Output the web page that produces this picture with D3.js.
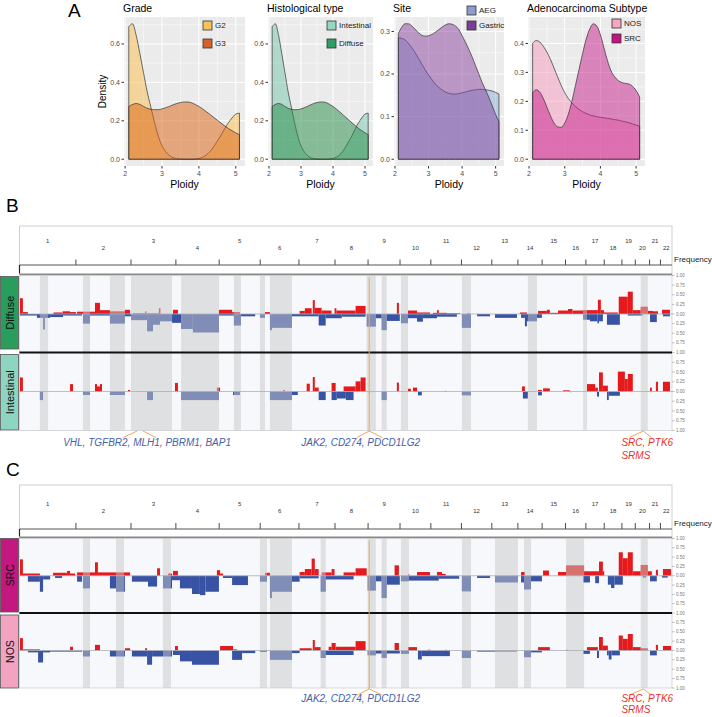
<!DOCTYPE html>
<html><head><meta charset="utf-8">
<script src="https://cdn.jsdelivr.net/npm/d3@7"></script>
<style>body{margin:0;background:#fff}svg{display:block}text{font-family:"Liberation Sans",Arial,Helvetica,sans-serif}.gray-aa{opacity:0.999}</style>
</head><body>
<svg id="chart" width="712" height="717"></svg>
<script>
// ---------------- Panel A data (density of ploidy) ----------------
const ploidy = [2.1,2.2,2.3,2.4,2.5,2.6,2.7,2.8,2.9,3.0,3.1,3.2,3.3,3.4,3.5,3.6,3.7,3.8,3.9,4.0,4.1,4.2,4.3,4.4,4.5,4.6,4.7,4.8,4.9,5.0,5.1];
const gradeG2 = [0.69,0.705,0.645,0.55,0.45,0.35,0.27,0.19,0.12,0.07,0.04,0.02,0.008,0.003,0.001,0,0,0,0.001,0.004,0.01,0.022,0.04,0.065,0.095,0.125,0.16,0.19,0.215,0.235,0.24];
const gradeG3 = [0.275,0.285,0.29,0.285,0.275,0.265,0.26,0.258,0.258,0.262,0.268,0.275,0.283,0.29,0.295,0.298,0.298,0.294,0.285,0.275,0.262,0.248,0.233,0.218,0.203,0.188,0.174,0.16,0.148,0.137,0.128];
const histIntestinal = [0.69,0.705,0.645,0.55,0.45,0.35,0.27,0.19,0.12,0.07,0.04,0.02,0.008,0.003,0.001,0,0,0,0.001,0.004,0.01,0.022,0.04,0.065,0.095,0.125,0.16,0.19,0.215,0.235,0.24];
const histDiffuse = [0.275,0.285,0.29,0.285,0.275,0.265,0.26,0.258,0.258,0.262,0.268,0.275,0.283,0.29,0.295,0.298,0.298,0.294,0.285,0.275,0.262,0.248,0.233,0.218,0.203,0.188,0.174,0.16,0.148,0.137,0.128];
const siteAEG = [0.285,0.284,0.28,0.272,0.262,0.25,0.237,0.223,0.21,0.198,0.187,0.177,0.169,0.163,0.158,0.155,0.153,0.153,0.154,0.156,0.158,0.16,0.162,0.163,0.164,0.164,0.163,0.162,0.16,0.157,0.153];
const siteGastric = [0.295,0.31,0.318,0.318,0.313,0.305,0.297,0.291,0.289,0.29,0.293,0.298,0.304,0.31,0.315,0.318,0.317,0.313,0.305,0.29,0.275,0.258,0.24,0.22,0.2,0.18,0.163,0.145,0.125,0.105,0.088];
const subtypeNOS = [0.40,0.41,0.405,0.39,0.37,0.345,0.315,0.285,0.255,0.23,0.21,0.195,0.182,0.172,0.164,0.158,0.153,0.15,0.147,0.145,0.143,0.141,0.139,0.137,0.135,0.132,0.129,0.126,0.122,0.118,0.114];
const subtypeSRC = [0.23,0.24,0.232,0.21,0.18,0.15,0.125,0.112,0.11,0.125,0.155,0.2,0.255,0.31,0.365,0.415,0.45,0.468,0.46,0.43,0.385,0.34,0.305,0.285,0.272,0.265,0.262,0.26,0.252,0.238,0.215];
const ploidyTicks = [2,3,4,5];

// ---------------- Panels B/C data (genome frequency plots) ----------------
const chromosomes = ["1","2","3","4","5","6","7","8","9","10","11","12","13","14","15","16","17","18","19","20","21","22"];
const chromLengthsMb = [249,243,198,191,181,171,159,146,141,136,135,134,115,107,103,90,81,78,59,63,48,51];
const freqTicks = [1,0.75,0.5,0.25,0,-0.25,-0.5,-0.75,-1];
// segments: [genome start Mb, genome end Mb, frequency]
const diffuseGain = [[2,15,0.41],[15,37,0.05],[150,190,0.04],[190,223,0.07],[223,249,0.05],[254,333,0.06],[333,355,0.29],[355,399,0.1],[399,465,0.07],[465,488,0.11],[500,554,0.02],[554,560,0.07],[560,615,0.02],[615,622,0.15],[677,699,0.11],[880,938,0.11],[938,973,0.05],[1083,1105,0.05],[1236,1259,0.08],[1259,1289,0.15],[1294,1303,0.36],[1303,1333,0.16],[1333,1377,0.09],[1390,1398,0.15],[1398,1483,0.09],[1483,1527,0.21],[1665,1674,0.29],[1714,1754,0.09],[1754,1811,0.04],[1824,1842,0.03],[1842,1850,0.1],[1850,1886,0.03],[1886,1944,0.02],[1974,1988,0.02],[2208,2239,0.04],[2288,2327,0.08],[2327,2340,0.11],[2340,2376,0.03],[2376,2420,0.09],[2420,2440,0.13],[2440,2487,0.09],[2487,2552,0.1],[2552,2565,0.37],[2565,2579,0.1],[2579,2640,0.04],[2644,2684,0.45],[2684,2706,0.58],[2706,2741,0.1],[2741,2772,0.19],[2772,2795,0.08],[2795,2817,0.07],[2835,2870,0.11]];
const diffuseLoss = [[2,77,0.04],[77,104,0.1],[104,112,0.4],[112,135,0.1],[135,192,0.08],[192,276,0.04],[280,311,0.25],[311,399,0.04],[399,465,0.25],[465,492,0.06],[492,563,0.16],[563,589,0.45],[589,620,0.28],[620,673,0.19],[673,713,0.23],[713,765,0.39],[765,880,0.48],[880,946,0.04],[946,977,0.3],[977,1040,0.06],[1061,1083,0.1],[1105,1114,0.42],[1114,1202,0.36],[1202,1320,0.06],[1320,1351,0.3],[1351,1422,0.11],[1422,1527,0.07],[1532,1572,0.33],[1572,1598,0.11],[1598,1620,0.42],[1620,1678,0.18],[1683,1714,0.24],[1714,1754,0.11],[1754,1780,0.2],[1780,1842,0.11],[1842,1930,0.07],[1952,1992,0.36],[2019,2076,0.06],[2098,2195,0.1],[2213,2230,0.1],[2230,2239,0.32],[2239,2283,0.19],[2283,2305,0.1],[2487,2517,0.15],[2517,2550,0.19],[2550,2557,0.24],[2557,2574,0.19],[2592,2649,0.28],[2684,2750,0.04],[2782,2812,0.21],[2839,2870,0.06]];
const intestinalGain = [[2,15,0.36],[223,236,0.19],[333,342,0.19],[342,355,0.13],[355,364,0.19],[479,488,0.04],[686,699,0.22],[871,885,0.1],[1163,1171,0.04],[1267,1281,0.2],[1294,1303,0.37],[1303,1320,0.1],[1377,1395,0.22],[1430,1483,0.13],[1483,1505,0.26],[1505,1527,0.36],[1665,1674,0.23],[1714,1727,0.07],[1736,1754,0.1],[1877,1881,0.02],[2217,2230,0.13],[2288,2305,0.04],[2310,2340,0.08],[2398,2429,0.03],[2504,2540,0.19],[2540,2552,0.1],[2557,2574,0.49],[2574,2596,0.15],[2640,2671,0.51],[2671,2684,0.32],[2684,2706,0.45],[2782,2790,0.1],[2808,2817,0.25],[2839,2870,0.25]];
const intestinalLoss = [[90,104,0.22],[280,311,0.09],[399,465,0.09],[563,589,0.22],[713,880,0.22],[942,973,0.09],[1105,1202,0.22],[1202,1228,0.09],[1320,1351,0.22],[1377,1400,0.22],[1400,1440,0.18],[1440,1474,0.22],[1541,1545,0.03],[1598,1620,0.22],[1758,1775,0.1],[1952,1992,0.1],[2221,2243,0.18],[2288,2305,0.1],[2430,2434,0.02],[2548,2557,0.13],[2592,2600,0.22],[2600,2649,0.11]];
const srcGain = [[2,15,0.44],[15,90,0.06],[148,210,0.08],[210,223,0.13],[223,245,0.06],[254,333,0.09],[333,346,0.36],[346,488,0.09],[607,620,0.2],[655,673,0.06],[677,699,0.13],[871,885,0.15],[885,898,0.06],[1083,1105,0.08],[1236,1259,0.1],[1259,1289,0.18],[1289,1303,0.46],[1303,1320,0.18],[1333,1377,0.09],[1377,1390,0.18],[1430,1483,0.09],[1483,1532,0.2],[1655,1674,0.28],[1714,1720,0.04],[1754,1811,0.1],[1842,1864,0.1],[1864,1880,0.05],[2213,2230,0.1],[2310,2336,0.14],[2376,2412,0.1],[2412,2491,0.28],[2491,2557,0.12],[2557,2574,0.38],[2574,2580,0.12],[2644,2662,0.63],[2662,2684,0.47],[2684,2706,0.63],[2706,2741,0.12],[2741,2772,0.29],[2772,2790,0.12],[2808,2817,0.16],[2839,2875,0.18]];
const srcLoss = [[37,90,0.16],[90,104,0.43],[104,135,0.1],[157,188,0.06],[254,276,0.16],[280,311,0.34],[399,426,0.34],[426,465,0.43],[496,567,0.16],[567,607,0.29],[633,673,0.34],[673,708,0.12],[708,761,0.34],[761,796,0.49],[796,820,0.52],[820,880,0.43],[898,938,0.06],[938,1008,0.25],[1061,1092,0.16],[1105,1114,0.6],[1114,1202,0.43],[1202,1236,0.16],[1236,1320,0.07],[1329,1351,0.43],[1351,1474,0.1],[1536,1572,0.4],[1572,1598,0.15],[1598,1620,0.6],[1620,1678,0.24],[1683,1718,0.15],[1718,1850,0.13],[1850,1940,0.08],[1952,1992,0.42],[2019,2076,0.06],[2098,2199,0.18],[2213,2226,0.18],[2226,2257,0.37],[2257,2305,0.15],[2487,2517,0.18],[2540,2557,0.2],[2596,2610,0.24],[2610,2625,0.33],[2625,2662,0.24],[2750,2765,0.05],[2782,2812,0.15],[2835,2860,0.05]];
const nosGain = [[2,15,0.33],[15,90,0.03],[223,236,0.1],[333,355,0.15],[465,488,0.06],[554,563,0.06],[686,699,0.12],[885,942,0.12],[942,960,0.03],[1236,1289,0.06],[1294,1303,0.28],[1303,1329,0.09],[1364,1377,0.1],[1377,1395,0.2],[1395,1483,0.1],[1483,1527,0.25],[1655,1674,0.2],[1714,1754,0.09],[1800,1815,0.02],[1880,1885,0.02],[2288,2340,0.09],[2412,2420,0.02],[2504,2552,0.09],[2557,2574,0.36],[2574,2596,0.13],[2644,2662,0.4],[2662,2684,0.31],[2684,2706,0.44],[2706,2741,0.09],[2741,2772,0.06],[2808,2817,0.15],[2839,2875,0.12]];
const nosLoss = [[37,82,0.05],[82,104,0.32],[104,135,0.05],[135,276,0.03],[280,311,0.16],[399,465,0.16],[496,563,0.16],[563,585,0.38],[585,673,0.16],[677,708,0.12],[708,761,0.29],[761,880,0.38],[938,982,0.25],[982,1040,0.07],[1061,1092,0.04],[1105,1202,0.25],[1202,1236,0.07],[1329,1351,0.2],[1351,1474,0.12],[1536,1572,0.13],[1572,1598,0.08],[1598,1620,0.2],[1620,1678,0.08],[1683,1718,0.09],[1758,1775,0.24],[1775,1899,0.15],[1952,1992,0.2],[2019,2195,0.03],[2226,2257,0.18],[2257,2305,0.05],[2487,2517,0.09],[2548,2557,0.2],[2592,2600,0.13],[2600,2612,0.24],[2612,2649,0.13],[2782,2812,0.13]];
// significant regions (grey bands): [genome start Mb, genome end Mb]
const bandsB = [[90,126],[280,311],[399,465],[492,673],[713,880],[946,977],[1061,1083],[1105,1202],[1532,1572],[1598,1620],[1683,1714],[1952,1992],[2243,2283],[2487,2504],[2741,2772]];
const bandsC = [[280,311],[426,461],[633,668],[1061,1092],[1105,1202],[1329,1351],[1536,1572],[1598,1620],[1683,1718],[1952,1992],[2098,2199],[2226,2257],[2412,2491],[2741,2772]];
// gene annotations: chromosome index (1-based), region Mb within chromosome
const genesLoss3p = {text:"VHL, TGFBR2, MLH1, PBRM1, BAP1", chr:3, from:27, to:53};
const genes9p = {text:"JAK2, CD274, PDCD1LG2", chr:9, from:5, to:5};
const genes20q = {lines:["SRC, PTK6","SRMS"], chr:20, from:36, to:36};

// ---------------- drawing ----------------
const svg = d3.select("#chart");
const RED = "#E41A1C", BLUE = "#3953A4", ORANGE = "#F2A65A", GENE_BLUE = "#4560AC", GENE_RED = "#E8302C";

// letters
svg.append("text").attr("x",68).attr("y",17).attr("font-size",19).text("A");
svg.append("text").attr("x",6).attr("y",212).attr("font-size",19).text("B");
svg.append("text").attr("x",6).attr("y",476).attr("font-size",19).text("C");

const panelTop = 17, panelBot = 166;
const densityPanels = [
  {title:"Grade", x0:124, x1:245, yTicks:[0,0.2,0.4,0.6], legendX:203, legendY:[21,39],
   series:[{name:"G2",v:gradeG2,fill:"#FDB93A",key:"#F8C25A"},{name:"G3",v:gradeG3,fill:"#D95F0E",key:"#D6602A"}], ylab:true},
  {title:"Histological type", x0:268, x1:373, yTicks:[0,0.2,0.4,0.6], legendX:327, legendY:[21,39],
   series:[{name:"Intestinal",v:histIntestinal,fill:"#66C2A4",key:"#97D6C3"},{name:"Diffuse",v:histDiffuse,fill:"#238B45",key:"#2E9E62"}]},
  {title:"Site", x0:394, x1:504, yTicks:[0,0.1,0.2,0.3], legendX:467, legendY:[6,21],
   series:[{name:"AEG",v:siteAEG,fill:"#7FA7D3",key:"#8E9BCB"},{name:"Gastric",v:siteGastric,fill:"#88419D",key:"#7B3D95"}]},
  {title:"Adenocarcinoma Subtype", x0:528, x1:645, yTicks:[0,0.1,0.2,0.3,0.4], legendX:612, legendY:[19,34],
   series:[{name:"NOS",v:subtypeNOS,fill:"#F691B8",key:"#F4A7BE"},{name:"SRC",v:subtypeSRC,fill:"#C51B8A",key:"#C0157F"}]}
];

densityPanels.forEach(p => {
  const g = svg.append("g");
  const x = d3.scaleLinear().domain([1.97,5.25]).range([p.x0,p.x1]);
  const ymax = d3.max(p.series, s => d3.max(s.v));
  const y = d3.scaleLinear().domain([-0.05*ymax, 1.05*ymax]).range([panelBot,panelTop]);
  g.append("rect").attr("x",p.x0).attr("y",panelTop).attr("width",p.x1-p.x0).attr("height",panelBot-panelTop).attr("fill","#EBEBEB");
  const step = p.yTicks[1]-p.yTicks[0];
  const yMinor = p.yTicks.map(t=>t+step/2).filter(t=>y(t)>panelTop);
  g.selectAll(null).data(yMinor).join("line").attr("x1",p.x0).attr("x2",p.x1).attr("y1",d=>y(d)).attr("y2",d=>y(d)).attr("stroke","#fff").attr("stroke-width",0.5);
  g.selectAll(null).data([2.5,3.5,4.5]).join("line").attr("y1",panelTop).attr("y2",panelBot).attr("x1",d=>x(d)).attr("x2",d=>x(d)).attr("stroke","#fff").attr("stroke-width",0.5);
  g.selectAll(null).data(p.yTicks).join("line").attr("x1",p.x0).attr("x2",p.x1).attr("y1",d=>y(d)).attr("y2",d=>y(d)).attr("stroke","#fff").attr("stroke-width",1);
  g.selectAll(null).data(ploidyTicks).join("line").attr("y1",panelTop).attr("y2",panelBot).attr("x1",d=>x(d)).attr("x2",d=>x(d)).attr("stroke","#fff").attr("stroke-width",1);
  const area = d3.area().x((d,i)=>x(ploidy[i])).y0(y(0)).y1(d=>y(d)).curve(d3.curveMonotoneX);
  p.series.forEach((s,k) => {
    g.append("path").attr("d",area(s.v)).attr("fill",s.fill).attr("fill-opacity",k===0?0.45:0.5)
      .attr("stroke","#333").attr("stroke-opacity",0.7).attr("stroke-width",1);
  });
  // axes
  g.selectAll(null).data(p.yTicks).join("line").attr("x1",p.x0-2.5).attr("x2",p.x0).attr("y1",d=>y(d)).attr("y2",d=>y(d)).attr("stroke","#333");
  g.selectAll(null).data(p.yTicks).join("text").attr("x",p.x0-4).attr("y",d=>y(d)).attr("dy","0.35em").attr("text-anchor","end")
    .attr("font-size",7).attr("fill","#4D4D4D").text(d=>d3.format(".1f")(d));
  g.selectAll(null).data(ploidyTicks).join("line").attr("x1",d=>x(d)).attr("x2",d=>x(d)).attr("y1",panelBot).attr("y2",panelBot+2.5).attr("stroke","#333");
  g.selectAll(null).data(ploidyTicks).join("text").attr("x",d=>x(d)).attr("y",panelBot+10).attr("text-anchor","middle")
    .attr("font-size",7).attr("fill","#4D4D4D").text(d=>d);
  g.append("text").attr("x",(p.x0+p.x1)/2).attr("y",188).attr("text-anchor","middle").attr("font-size",10.5).text("Ploidy");
  g.append("text").attr("x",p.x0-1).attr("y",11.7).attr("font-size",10.5).text(p.title);
  if (p.ylab) g.append("text").attr("transform",`translate(106,${(panelTop+panelBot)/2}) rotate(-90)`).attr("text-anchor","middle").attr("font-size",10).text("Density");
  // legend
  p.series.forEach((s,k) => {
    g.append("rect").attr("x",p.legendX).attr("y",p.legendY[k]).attr("width",9).attr("height",9)
      .attr("fill",s.key).attr("stroke","#333").attr("stroke-width",0.8);
    g.append("text").attr("x",p.legendX+12).attr("y",p.legendY[k]+4.5).attr("dy","0.35em").attr("font-size",8).attr("fill","#222").text(s.name);
  });
});

// genome panels
const chromStart = Array.from(d3.cumsum([0, ...chromLengthsMb]));
const genomeLen = chromStart[chromStart.length-1];
const gx = d3.scaleLinear().domain([0, genomeLen]).range([19.5, 672]);
const pos = (chr, mb) => gx(chromStart[chr-1] + mb);

function drawGenome(cfg) {
  const g = svg.append("g");
  g.append("rect").attr("x",19.5).attr("y",cfg.boxTop).attr("width",652.5).attr("height",cfg.trackTop-cfg.boxTop)
    .attr("fill","#fff").attr("stroke","#cfcfcf");
  g.append("g").attr("class","gray-aa").selectAll(null).data(chromosomes).join("text")
    .attr("x",(d,i)=>gx(chromStart[i]+chromLengthsMb[i]/2)).attr("y",(d,i)=> i%2===0?cfg.oddY:cfg.evenY)
    .attr("text-anchor","middle").attr("font-size",6).attr("fill","#333").text(d=>d);
  g.selectAll(null).data(chromStart.slice(1,22)).join("line")
    .attr("x1",d=>gx(d)).attr("x2",d=>gx(d)).attr("y1",cfg.tickTop).attr("y2",cfg.tickBot).attr("stroke","#333").attr("stroke-width",0.9);
  g.append("line").attr("x1",19.5).attr("x2",672).attr("y1",cfg.tickBot).attr("y2",cfg.tickBot).attr("stroke","#555").attr("stroke-width",1);
  g.append("line").attr("x1",19.5).attr("x2",19.5).attr("y1",cfg.tickBot).attr("y2",cfg.barBot).attr("stroke","#222").attr("stroke-width",1.2);
  g.append("rect").attr("x",19.5).attr("y",cfg.barBot).attr("width",652.5).attr("height",cfg.trackTop-cfg.barBot).attr("fill","#8A8A8A");
  g.append("text").attr("x",674).attr("y",cfg.freqY).attr("font-size",8).attr("fill","#222").text("Frequency");
  // track background
  g.append("rect").attr("x",19.5).attr("y",cfg.trackTop).attr("width",652.5).attr("height",cfg.trackBot-cfg.trackTop)
    .attr("fill","#F6F8FB").attr("stroke","#CFCFCF").attr("stroke-width",0.8);
  cfg.tracks.forEach((t,k) => {
    const y = d3.scaleLinear().domain([-1,1]).range([t.bot,t.top]);
    g.selectAll(null).data(t.gain).join("rect").attr("x",d=>gx(d[0])).attr("width",d=>Math.max(0.8,gx(d[1])-gx(d[0])))
      .attr("y",d=>y(d[2])).attr("height",d=>y(0)-y(d[2])).attr("fill",RED);
    g.selectAll(null).data(t.loss).join("rect").attr("x",d=>gx(d[0])).attr("width",d=>Math.max(0.8,gx(d[1])-gx(d[0])))
      .attr("y",y(0)).attr("height",d=>y(-d[2])-y(0)).attr("fill",BLUE);
    // right axis
    const tv = k===0 ? freqTicks : freqTicks.slice(1);
    g.selectAll(null).data(tv).join("line").attr("x1",672).attr("x2",674.5).attr("y1",d=>y(d)).attr("y2",d=>y(d)).attr("stroke","#999").attr("stroke-width",0.6);
    g.append("g").attr("class","gray-aa").selectAll(null).data(tv).join("text").attr("x",676).attr("y",d=>y(d)).attr("dy","0.35em").attr("font-size",4.5).attr("fill","#777")
      .text(d=>d3.format(".2f")(Math.abs(d)));
    // strip
    g.append("rect").attr("x",0.5).attr("y",t.strip[0]).attr("width",18).attr("height",t.strip[1]-t.strip[0])
      .attr("fill",t.color).attr("stroke","#555").attr("stroke-width",0.8);
    g.append("text").attr("transform",`translate(10,${(t.strip[0]+t.strip[1])/2}) rotate(-90)`).attr("dy","0.35em")
      .attr("text-anchor","middle").attr("font-size",t.fs).attr("fill","#111").text(t.label);
    t.zero = y(0);
  });
  // significance bands
  g.selectAll(null).data(cfg.bands).join("rect").attr("x",d=>gx(d[0])).attr("width",d=>gx(d[1])-gx(d[0]))
    .attr("y",cfg.trackTop).attr("height",cfg.trackBot-cfg.trackTop).attr("fill","#C8C8C8").attr("fill-opacity",0.5);
  cfg.tracks.forEach(t => {
    g.append("line").attr("x1",19.5).attr("x2",672).attr("y1",t.zero).attr("y2",t.zero).attr("stroke","#A9AEBB").attr("stroke-width",0.8);
  });
  g.append("line").attr("x1",19.5).attr("x2",672).attr("y1",cfg.sep).attr("y2",cfg.sep).attr("stroke","#111").attr("stroke-width",2);
  // JAK2 vertical line + caret
  const xj = pos(genes9p.chr, genes9p.from);
  g.append("line").attr("x1",xj).attr("x2",xj).attr("y1",cfg.trackTop+2).attr("y2",cfg.caretTop).attr("stroke",ORANGE).attr("stroke-width",1);
  const caret = (xa, xb, dl, dr) => {
    g.append("line").attr("x1",xa).attr("y1",cfg.caretTop).attr("x2",xa-dl).attr("y2",cfg.caretBot).attr("stroke",ORANGE).attr("stroke-width",1);
    g.append("line").attr("x1",xb).attr("y1",cfg.caretTop).attr("x2",xb+dr).attr("y2",cfg.caretBot).attr("stroke",ORANGE).attr("stroke-width",1);
  };
  caret(xj, xj, 12, 13);
  g.append("text").attr("x",xj-8.5).attr("y",cfg.textY).attr("text-anchor","middle").attr("font-size",10)
    .attr("font-style","italic").attr("fill",GENE_BLUE).text(genes9p.text);
  if (cfg.show3p) {
    const xa = pos(genesLoss3p.chr, genesLoss3p.from), xb = pos(genesLoss3p.chr, genesLoss3p.to);
    caret(xa, xb, 14, 13);
    g.append("text").attr("x",(xa+xb)/2+7).attr("y",cfg.textY).attr("text-anchor","middle").attr("font-size",10)
      .attr("font-style","italic").attr("fill",GENE_BLUE).text(genesLoss3p.text);
  }
  const xs = pos(genes20q.chr, genes20q.from);
  caret(xs, xs, 14, 8);
  g.selectAll(null).data(genes20q.lines).join("text").attr("x",xs-22).attr("y",(d,i)=>cfg.textY+i*cfg.lineGap)
    .attr("font-size",10).attr("font-style","italic").attr("fill",GENE_RED).text(d=>d);
}

drawGenome({boxTop:226, oddY:242.5, evenY:250, tickTop:259.5, tickBot:265, barBot:273.5, trackTop:275.5, sep:352.5, trackBot:430.5,
  freqY:262, caretTop:431, caretBot:437.5, textY:446, lineGap:12.5, show3p:true, bands:bandsB,
  tracks:[{label:"Diffuse", top:275.5, bot:352.5, gain:diffuseGain, loss:diffuseLoss, strip:[276.5,349], color:"#2A9D5C", fs:11},
          {label:"Intestinal", top:352.5, bot:430.5, gain:intestinalGain, loss:intestinalLoss, strip:[354.5,430], color:"#8DD5C0", fs:11}]});
drawGenome({boxTop:485, oddY:506, evenY:512.5, tickTop:523, tickBot:529, barBot:536.5, trackTop:538.5, sep:613, trackBot:688,
  freqY:526, caretTop:689, caretBot:695, textY:701.5, lineGap:11.5, show3p:false, bands:bandsC,
  tracks:[{label:"SRC", top:538.5, bot:613, gain:srcGain, loss:srcLoss, strip:[538.5,612], color:"#C2187F", fs:10.5},
          {label:"NOS", top:613, bot:688, gain:nosGain, loss:nosLoss, strip:[615,688], color:"#F2A3BF", fs:10.5}]});
</script>
</body></html>
